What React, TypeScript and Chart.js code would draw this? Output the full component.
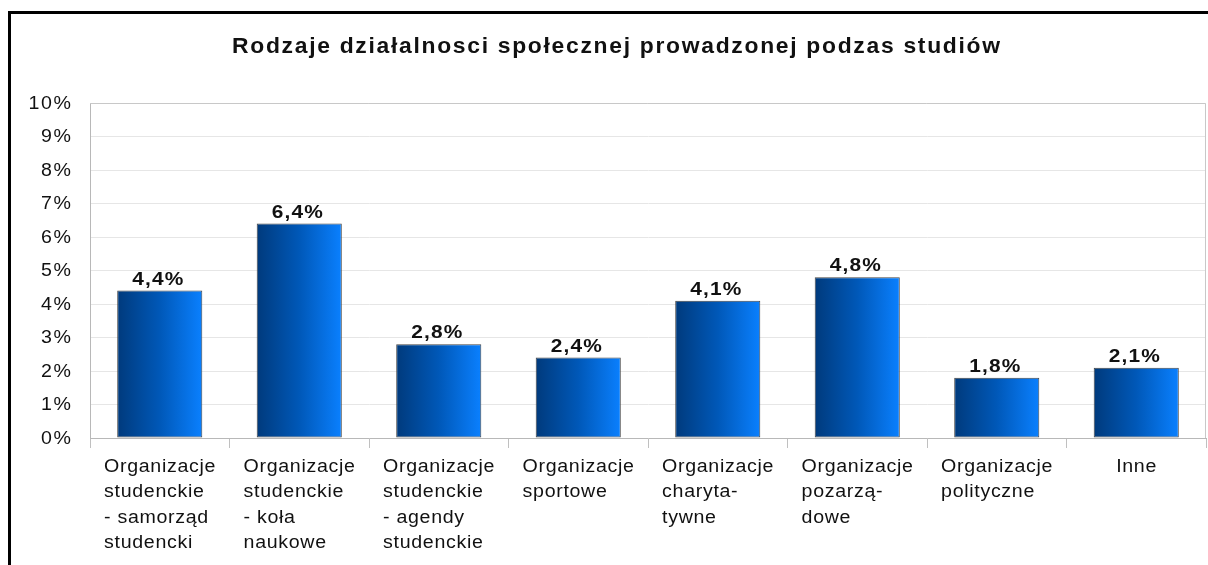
import React, { useEffect, useRef } from "react";
import { Chart, registerables } from "chart.js";

Chart.register(...registerables);

const chartTitle = "Rodzaje działalnosci społecznej prowadzonej podzas studiów";

const categories: string[][] = [
  ["Organizacje", "studenckie", "- samorząd", "studencki"],
  ["Organizacje", "studenckie", "- koła", "naukowe"],
  ["Organizacje", "studenckie", "- agendy", "studenckie"],
  ["Organizacje", "sportowe"],
  ["Organizacje", "charyta-", "tywne"],
  ["Organizacje", "pozarzą-", "dowe"],
  ["Organizacje", "polityczne"],
  ["Inne"],
];

const values: number[] = [4.4, 6.4, 2.8, 2.4, 4.1, 4.8, 1.8, 2.1];

const yTickLabels: string[] = ["0%", "1%", "2%", "3%", "4%", "5%", "6%", "7%", "8%", "9%", "10%"];

const FONT = "'Liberation Sans', Arial, sans-serif";
const BAR_FRACTION = 0.61;

function measure(ctx: CanvasRenderingContext2D, text: string, font: string, spacing: number, h = 1) {
  ctx.save();
  ctx.font = font;
  (ctx as any).letterSpacing = spacing + "px";
  const w = (ctx.measureText(text).width - spacing) * h;
  ctx.restore();
  return w;
}

function drawText(
  ctx: CanvasRenderingContext2D,
  text: string,
  x: number,
  y: number,
  font: string,
  spacing: number,
  h: number,
  align: "left" | "center" | "right",
  color: string,
  baseline: CanvasTextBaseline = "alphabetic"
) {
  const w = measure(ctx, text, font, spacing, h);
  const sx = align === "left" ? x : align === "center" ? x - w / 2 : x - w;
  ctx.save();
  ctx.font = font;
  (ctx as any).letterSpacing = spacing + "px";
  ctx.textAlign = "left";
  ctx.textBaseline = baseline;
  ctx.fillStyle = color;
  ctx.translate(sx, y);
  ctx.scale(h, 1);
  ctx.fillText(text, 0, 0);
  ctx.restore();
}

const decorPlugin = {
  id: "decor",
  beforeDatasetsDraw(chart: any) {
    const { ctx, chartArea } = chart;
    ctx.save();
    ctx.strokeStyle = "#c8c8c8";
    ctx.lineWidth = 1;
    ctx.beginPath();
    ctx.moveTo(chartArea.left, chartArea.top + 0.5);
    ctx.lineTo(chartArea.right - 0.5, chartArea.top + 0.5);
    ctx.lineTo(chartArea.right - 0.5, chartArea.bottom);
    ctx.stroke();
    ctx.restore();
  },
  afterDraw(chart: any) {
    const { ctx } = chart;
    const xs = chart.scales.x;
    const ys = chart.scales.y;
    // outer frame
    ctx.save();
    ctx.fillStyle = "#000";
    ctx.fillRect(8, 11, 3, chart.height - 11);
    ctx.fillRect(8, 11, chart.width - 8, 3);
    ctx.restore();

    // title
    const tFont = `bold 22px ${FONT}`;
    const th = 1.04;
    const base = measure(ctx, chartTitle, tFont, 0, th);
    const n = Array.from(chartTitle).length;
    const sp = (768 - base) / th / (n - 1);
    drawText(ctx, chartTitle, 616, 53, tFont, sp, th, "center", "#111");

    // y tick labels
    const yFont = `17.5px ${FONT}`;
    yTickLabels.forEach((lab, i) => {
      const py = ys.getPixelForValue(i);
      drawText(ctx, lab, 71, py + 1, yFont, 1.5, 1.12, "right", "#111", "middle");
    });

    // x labels
    const xFont = `17.5px ${FONT}`;
    categories.forEach((lines, i) => {
      const cx = xs.getPixelForValue(i);
      const widths = lines.map((l) => measure(ctx, l, xFont, 0.6, 1.12));
      const bw = Math.max(...widths);
      const sx = cx - bw / 2;
      lines.forEach((l, j) => {
        drawText(ctx, l, sx, 472 + j * 25.3, xFont, 0.6, 1.12, "left", "#111");
      });
    });

    // data labels
    const meta = chart.getDatasetMeta(0);
    const dFont = `bold 19px ${FONT}`;
    meta.data.forEach((bar: any, i: number) => {
      const txt = values[i].toFixed(1).replace(".", ",") + "%";
      drawText(ctx, txt, bar.x - 2, bar.y - 6, dFont, 1, 1.1, "center", "#111");
    });
  },
};

export default function App() {
  const ref = useRef<HTMLCanvasElement | null>(null);

  useEffect(() => {
    if (!ref.current) return;
    const chart = new Chart(ref.current, {
      type: "bar",
      data: {
        labels: categories.map((c) => c.join(" ")),
        datasets: [
          {
            data: values,
            backgroundColor: (c: any) => {
              const ch = c.chart;
              const xs = ch.scales && ch.scales.x;
              if (!xs || c.dataIndex == null || !isFinite(xs.width)) return "#0055b0";
              const cx = xs.getPixelForValue(c.dataIndex);
              const w = (xs.width / values.length) * BAR_FRACTION;
              const g = ch.ctx.createLinearGradient(cx - w / 2, 0, cx + w / 2, 0);
              g.addColorStop(0, "#003a7c");
              g.addColorStop(0.5, "#0058b8");
              g.addColorStop(1, "#0a80ff");
              return g;
            },
            borderColor: "#444444",
            borderWidth: 1,
            borderSkipped: false,
            categoryPercentage: 1,
            barPercentage: BAR_FRACTION,
          },
        ],
      },
      options: {
        animation: false,
        responsive: false,
        maintainAspectRatio: false,
        layout: { padding: { left: 0, top: 103, right: 2, bottom: 0 } },
        plugins: {
          legend: { display: false },
          tooltip: { enabled: false },
          title: { display: false },
        },
        scales: {
          x: {
            offset: true,
            ticks: { display: false },
            grid: {
              offset: true,
              drawOnChartArea: false,
              drawTicks: true,
              tickLength: 10,
              color: "#c0c0c0",
            },
            border: { color: "#b8b8b8" },
            afterFit: (s: any) => {
              s.height = 127;
            },
          },
          y: {
            min: 0,
            max: 10,
            ticks: { stepSize: 1, display: false },
            grid: { color: "#e6e6e6", drawTicks: false },
            border: { color: "#b8b8b8" },
            afterFit: (s: any) => {
              s.width = 90;
            },
          },
        },
      },
      plugins: [decorPlugin],
    });
    return () => chart.destroy();
  }, []);

  return (
    <div style={{ position: "fixed", left: 0, top: 0, width: 1208, height: 565, background: "#fff" }}>
      <canvas ref={ref} width={1208} height={565} style={{ display: "block", width: 1208, height: 565 }} />
    </div>
  );
}
